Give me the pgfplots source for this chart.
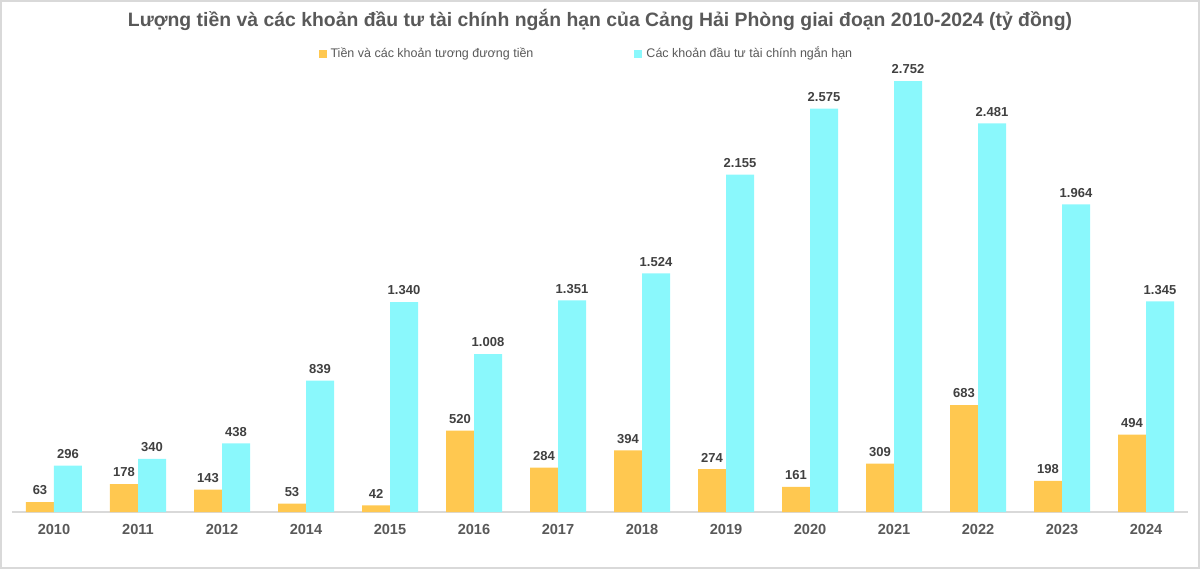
\documentclass[border=0pt]{standalone}
\usepackage{pgfplots}
\pgfplotsset{compat=1.18}
\usepackage{fontspec}
\setmainfont{Liberation Sans}

\definecolor{tienmat}{HTML}{FFC850}
\definecolor{dautu}{HTML}{8AF8FC}
\definecolor{chu}{HTML}{595959}
\definecolor{nhan}{HTML}{404040}
\definecolor{truc}{HTML}{D9D9D9}

\begin{document}
\begin{tikzpicture}
\useasboundingbox (-6pt,-28.5pt) rectangle (594pt,256pt);
\begin{axis}[
    at={(0,0)}, anchor=south west,
    scale only axis,
    width=588pt, height=219.25pt,
    ybar=0pt, bar width=14pt,
    xmin=-0.5, xmax=13.5,
    ymin=0, ymax=2800,
    xtick=data,
    xticklabels={2010,2011,2012,2014,2015,2016,2017,2018,2019,2020,2021,2022,2023,2024},
    x tick label style={font=\fontsize{7.3}{8}\selectfont\bfseries, text=chu, yshift=-2.5pt},
    major tick length=0pt,
    axis x line*=bottom,
    axis line style={truc, line width=0.8pt, -},
    hide y axis,
    clip=false,
    nodes near coords,
    every node near coord/.append style={font=\fontsize{6.5}{7}\selectfont\bfseries, text=nhan, yshift=0pt},
    /pgf/number format/.cd, fixed, precision=0, 1000 sep={.}, assume math mode=true,
    /pgfplots/.cd,
    title={Lượng tiền và các khoản đầu tư tài chính ngắn hạn của Cảng Hải Phòng giai đoạn 2010-2024 (tỷ đồng)},
    every axis title shift=0pt,
    title style={at={(0.5,1.122)}, anchor=center, font=\fontsize{9.7}{11}\selectfont\bfseries, text=chu},
    legend columns=2,
    legend style={at={(0.488,1.045)}, anchor=center, draw=none, fill=none,
        font=\fontsize{6.25}{7}\selectfont, text=chu,
        /tikz/every even column/.append style={column sep=47pt}},
    legend image code/.code={\path (0pt,0pt); \fill[#1] (1.5pt,-2pt) rectangle (5.5pt,2pt);},
]
\addplot[fill=tienmat, draw=none] coordinates {
    (0,63)(1,178)(2,143)(3,53)(4,42)(5,520)(6,284)(7,394)(8,274)(9,161)(10,309)(11,683)(12,198)(13,494)
};
\addlegendentry{Tiền và các khoản tương đương tiền}
\addplot[fill=dautu, draw=none] coordinates {
    (0,296)(1,340)(2,438)(3,839)(4,1340)(5,1008)(6,1351)(7,1524)(8,2155)(9,2575)(10,2752)(11,2481)(12,1964)(13,1345)
};
\addlegendentry{Các khoản đầu tư tài chính ngắn hạn}
\end{axis}
\draw[truc, line width=1pt] (-5.5pt,-28pt) rectangle (593.5pt,255.5pt);
\end{tikzpicture}
\end{document}
